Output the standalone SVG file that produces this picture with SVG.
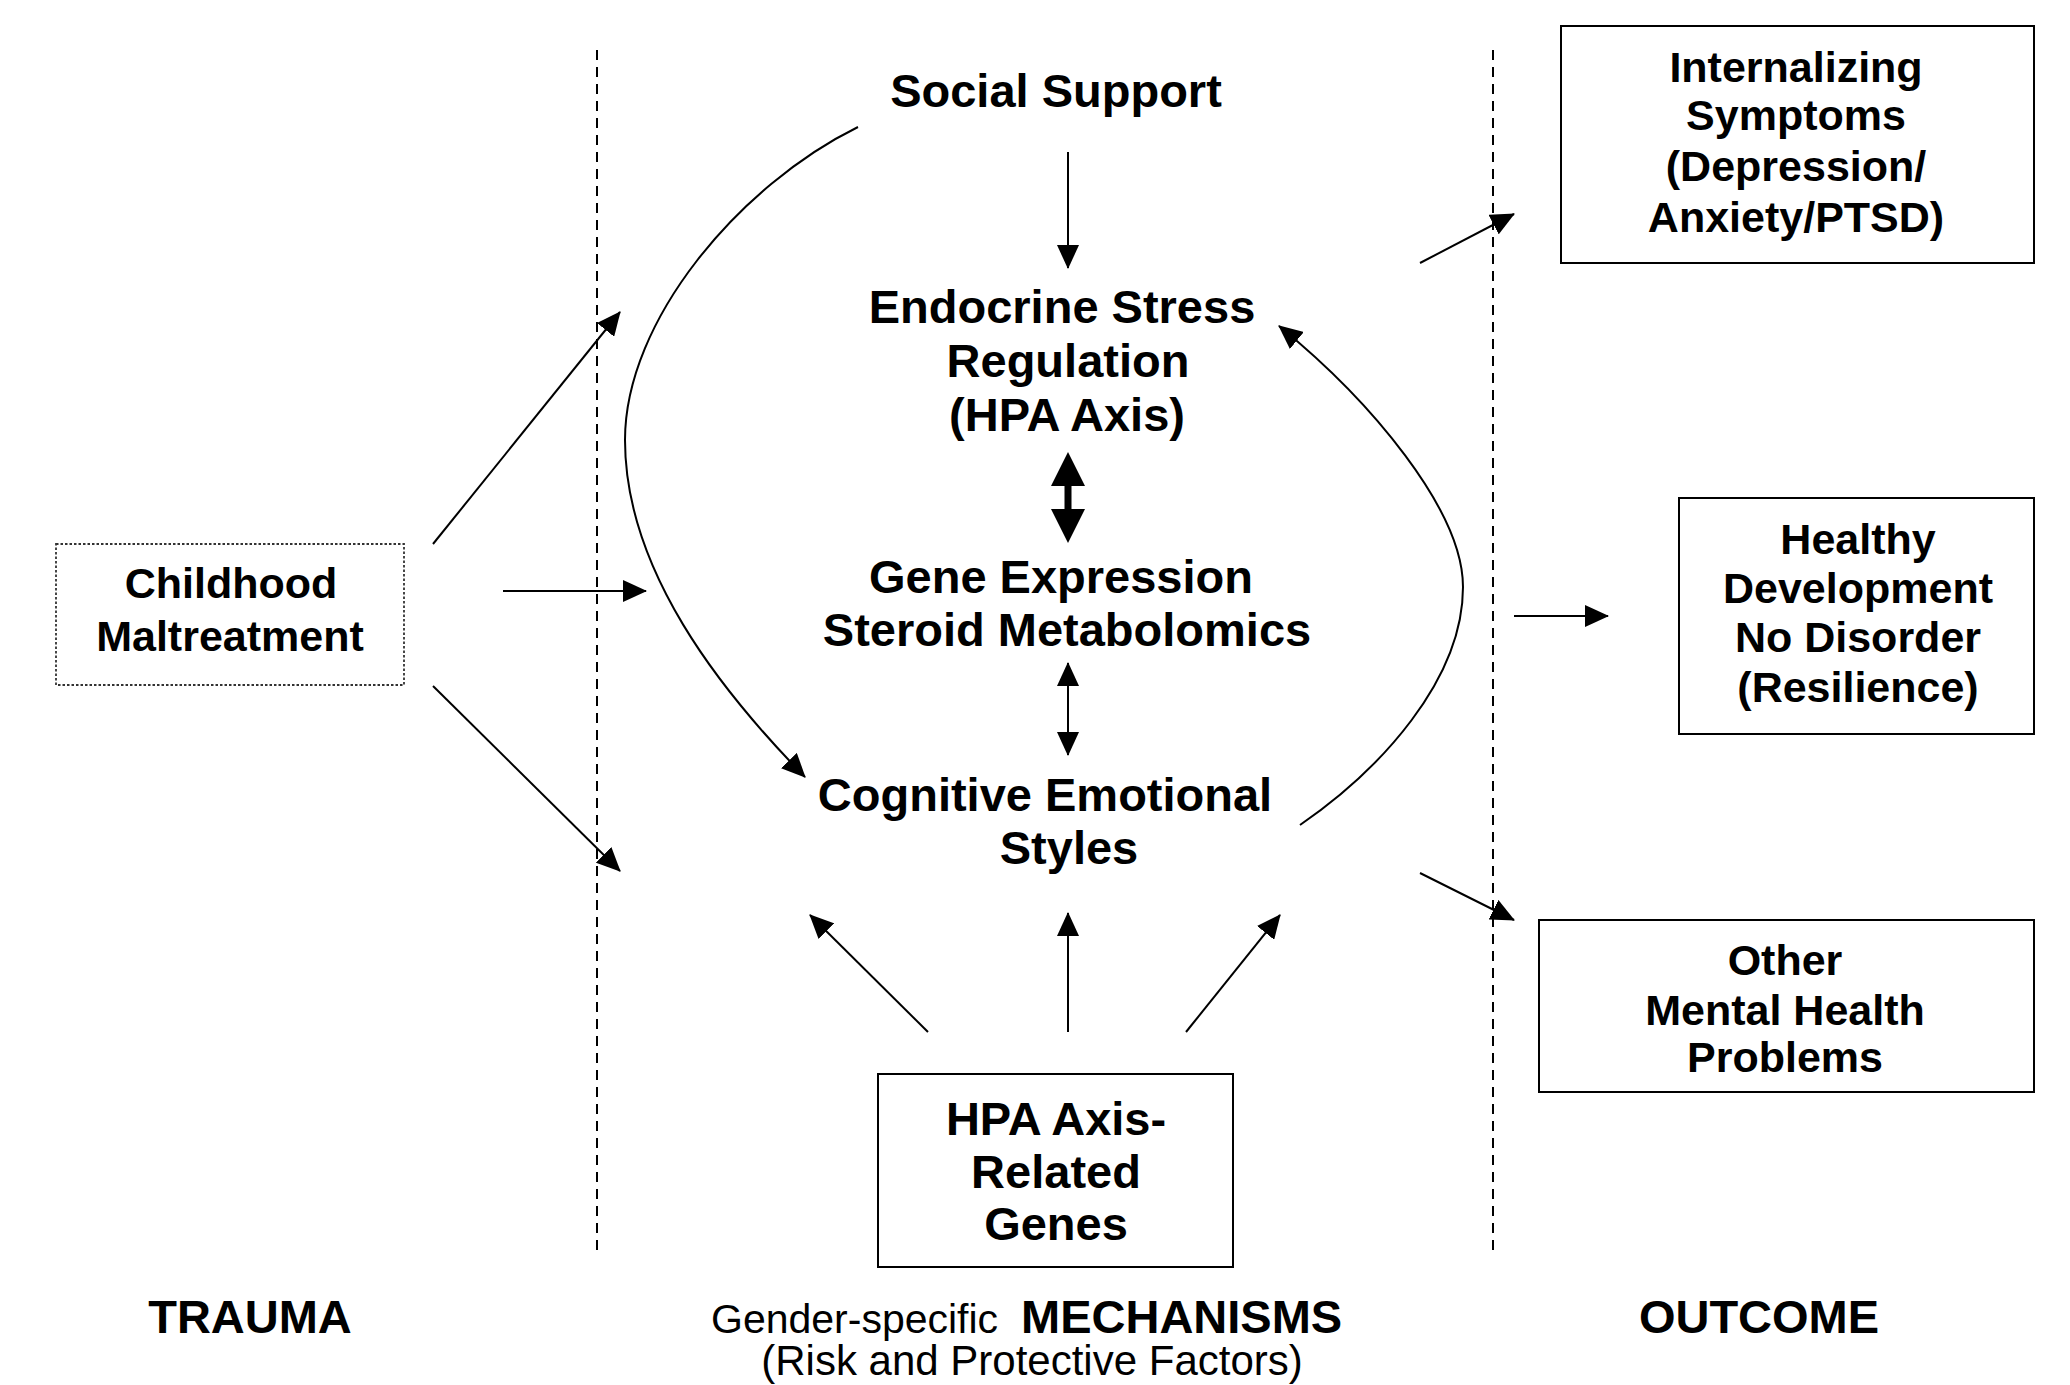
<svg xmlns="http://www.w3.org/2000/svg" width="2070" height="1385" viewBox="0 0 2070 1385">
<style>
text{font-family:"Liberation Sans",Arial,sans-serif;fill:#000;text-anchor:middle}
.b{font-weight:bold}
.c{font-size:47px}
.o{font-size:43px}
.r{font-size:41px;font-weight:normal}
.box{fill:#fff;stroke:#000;stroke-width:2}
.dot{fill:#fff;stroke:#333;stroke-width:1.8;stroke-dasharray:2.5 2}
.ln{fill:none;stroke:#000;stroke-width:2}
.arr{marker-end:url(#ah)}
.dash{fill:none;stroke:#000;stroke-width:2;stroke-dasharray:10 7}
</style>
<defs>
<marker id="ah" markerUnits="userSpaceOnUse" markerWidth="24" markerHeight="22" refX="23" refY="11" orient="auto-start-reverse">
<path d="M0,0 L24,11 L0,22 Z" fill="#000"/>
</marker>
</defs>
<rect width="2070" height="1385" fill="#fff"/>
<g id="dividers">
<line class="dash" x1="597" y1="50" x2="597" y2="1250"/>
<line class="dash" x1="1493" y1="50" x2="1493" y2="1250"/>
</g>
<g id="connectors">
<line class="ln arr" x1="433" y1="544" x2="620" y2="312"/>
<line class="ln arr" x1="503" y1="591" x2="646" y2="591"/>
<line class="ln arr" x1="433" y1="686" x2="620" y2="871"/>
<line class="ln arr" x1="1068" y1="152" x2="1068" y2="268"/>
<path class="ln arr" d="M858,127 C740,185 625,320 625,440 C625,570 720,690 805,777"/>
<path class="ln arr" d="M1300,825 C1380,770 1463,680 1463,587 C1463,510 1370,400 1279,326"/>
<path d="M1068,452 L1085,486 L1071.5,486 L1071.5,509 L1085,509 L1068,543 L1051,509 L1064.5,509 L1064.5,486 L1051,486 Z" fill="#000"/>
<line class="ln" x1="1068" y1="663" x2="1068" y2="755" marker-start="url(#ah)" marker-end="url(#ah)"/>
<line class="ln arr" x1="928" y1="1032" x2="810" y2="915"/>
<line class="ln arr" x1="1068" y1="1032" x2="1068" y2="913"/>
<line class="ln arr" x1="1186" y1="1032" x2="1280" y2="915"/>
<line class="ln arr" x1="1420" y1="263" x2="1514" y2="214"/>
<line class="ln arr" x1="1514" y1="616" x2="1608" y2="616"/>
<line class="ln arr" x1="1420" y1="873" x2="1514" y2="920"/>
</g>
<g id="childhood">
<rect class="dot" x="56" y="544" width="348" height="141"/>
<text class="b o" x="231" y="598">Childhood</text>
<text class="b o" x="230" y="651">Maltreatment</text>
</g>
<g id="social-support">
<text class="b c" x="1056" y="107">Social Support</text>
</g>
<g id="endocrine">
<text class="b c" x="1062" y="323">Endocrine Stress</text>
<text class="b c" x="1068" y="377">Regulation</text>
<text class="b c" x="1067" y="431">(HPA Axis)</text>
</g>
<g id="gene-expression">
<text class="b c" x="1061" y="593">Gene Expression</text>
<text class="b c" x="1067" y="646">Steroid Metabolomics</text>
</g>
<g id="cognitive">
<text class="b c" x="1045" y="811">Cognitive Emotional</text>
<text class="b c" x="1069" y="864">Styles</text>
</g>
<g id="hpa-genes">
<rect class="box" x="878" y="1074" width="355" height="193"/>
<text class="b c" x="1056" y="1135">HPA Axis-</text>
<text class="b c" x="1056" y="1188">Related</text>
<text class="b c" x="1056" y="1240">Genes</text>
</g>
<g id="internalizing">
<rect class="box" x="1561" y="26" width="473" height="237"/>
<text class="b o" x="1796" y="82">Internalizing</text>
<text class="b o" x="1796" y="130">Symptoms</text>
<text class="b o" x="1796" y="181">(Depression/</text>
<text class="b o" x="1796" y="232">Anxiety/PTSD)</text>
</g>
<g id="healthy">
<rect class="box" x="1679" y="498" width="355" height="236"/>
<text class="b o" x="1858" y="554">Healthy</text>
<text class="b o" x="1858" y="603">Development</text>
<text class="b o" x="1858" y="652">No Disorder</text>
<text class="b o" x="1858" y="702">(Resilience)</text>
</g>
<g id="other">
<rect class="box" x="1539" y="920" width="495" height="172"/>
<text class="b o" x="1785" y="975">Other</text>
<text class="b o" x="1785" y="1025">Mental Health</text>
<text class="b o" x="1785" y="1072">Problems</text>
</g>
<g id="labels">
<text class="b c" x="250" y="1333">TRAUMA</text>
<text class="r" x="711" y="1333" style="text-anchor:start">Gender-specific <tspan class="b c" x="1021">MECHANISMS</tspan></text>
<text class="r" x="1032" y="1375" style="font-size:42px">(Risk and Protective Factors)</text>
<text class="b c" x="1759" y="1333">OUTCOME</text>
</g>
</svg>
